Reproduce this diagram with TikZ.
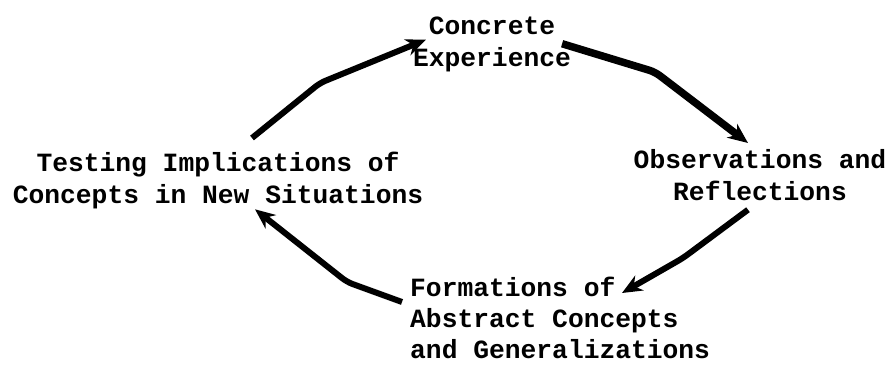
\documentclass[tikz,border=0pt]{standalone}
\usepackage{fontspec}
\usepackage{xcolor}
\usetikzlibrary{arrows.meta, calc}
\newfontfamily\typer{Liberation Mono}

\tikzset{
    stage/.style={inner sep=0pt, font=\typer\bfseries\fontsize{26.3}{32}\selectfont},
    cyc/.style={line width=6pt, rounded corners=6pt, -{Stealth[length=20pt,width=17pt]}}
}

\begin{document}
\begin{tikzpicture}[x=1pt, y=-1pt]
        \useasboundingbox (0,0) rectangle (896,364);

        \node[stage, anchor=north, align=center] (concrete) at (492,17) {Concrete\\Experience};
        \node[stage, anchor=north, align=center] (observe) at (760,149) {Observations and\\Reflections};
        \node[stage, anchor=north west, align=left, font=\typer\bfseries\fontsize{26.3}{31}\selectfont] (abstract) at (410,277) {Formations of\\Abstract Concepts\\and Generalizations};
        \node[stage, anchor=north, align=center] (testing) at (218,152) {Testing Implications of\\Concepts in New Situations};

        \coordinate (b1) at (320,83);
        \coordinate (b2) at (655,72);
        \coordinate (b3) at (683,258);
        \coordinate (b4) at (347,282);

        \draw[cyc] ([shift={(34,-14)}]testing.north) -- (b1) -- ([shift={(13,-5)}]concrete.west);
        \draw[cyc, line width=7.5pt] ([shift={(-9,-1)}]concrete.east) -- (b2) -- ([shift={(-12,-6)}]observe.north);
        \draw[cyc] ([shift={(-12,9)}]observe.south) -- (b3) -- ([shift={(212,16)}]abstract.north west);
        \draw[cyc] ([shift={(-8,25)}]abstract.north west) -- (b4) -- ([shift={(37,0)}]testing.south);
    \end{tikzpicture}
\end{document}
